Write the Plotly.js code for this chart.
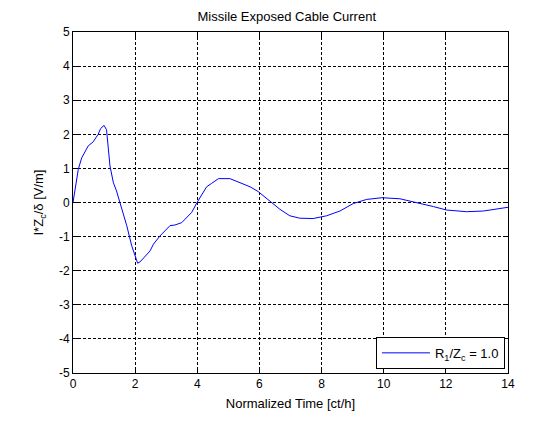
<!DOCTYPE html>
<html>
<head>
<meta charset="utf-8">
<script src="https://cdn.plot.ly/plotly-3.0.1.min.js"></script>
<style>html,body{margin:0;padding:0;background:#fff;}#chart{width:559px;height:422px;}</style>
</head>
<body>
<div id="chart"></div>
<script>
var timeValues = [0, 0.17, 0.28, 0.49, 0.65, 0.81, 0.89, 1.0, 1.08, 1.19, 1.3, 1.4, 1.51, 1.73, 1.89, 2.08, 2.16, 2.48, 2.59, 2.8, 3.12, 3.28, 3.5, 3.82, 3.98, 4.15, 4.3, 4.46, 4.68, 5.05, 5.37, 5.7, 5.96, 6.33, 6.66, 6.98, 7.3, 7.73, 8.16, 8.59, 9.02, 9.45, 9.94, 10.52, 11.06, 11.6, 12.02, 12.67, 13.21, 13.9, 14.0];
var currentValues = [0, 0.97, 1.31, 1.66, 1.78, 2.0, 2.17, 2.26, 2.13, 1.07, 0.58, 0.34, 0, -0.68, -1.27, -1.78, -1.74, -1.42, -1.22, -0.98, -0.68, -0.66, -0.59, -0.29, -0.02, 0.22, 0.46, 0.56, 0.7, 0.7, 0.58, 0.46, 0.32, 0.05, -0.2, -0.39, -0.46, -0.47, -0.39, -0.25, -0.03, 0.09, 0.14, 0.11, 0, -0.12, -0.22, -0.27, -0.25, -0.15, -0.14];
var xTicks = [0, 2, 4, 6, 8, 10, 12, 14];
var yTicks = [-5, -4, -3, -2, -1, 0, 1, 2, 3, 4, 5];
var seriesName = 'R<sub>1</sub>/Z<sub>c</sub> = 1.0';

var font = {family: 'Liberation Sans, Arial, sans-serif', size: 12, color: '#000'};
var bigFont = {family: 'Liberation Sans, Arial, sans-serif', size: 13, color: '#000'};
var axisCommon = {
  showline: true, linecolor: '#000', linewidth: 1, mirror: 'ticks',
  ticks: 'inside', ticklen: 5, tickcolor: '#000', tickwidth: 1,
  showgrid: true, gridcolor: '#000', gridwidth: 1, griddash: '3px,2px',
  zeroline: false, tickfont: font
};
var layout = {
  width: 559, height: 422,
  margin: {l: 73, r: 51, t: 32, b: 49},
  paper_bgcolor: '#fff', plot_bgcolor: '#fff',
  font: font,
  showlegend: true,
  title: {text: 'Missile Exposed Cable Current', font: bigFont, x: 0.513, xanchor: 'center', y: 0.96, yanchor: 'middle'},
  xaxis: Object.assign({}, axisCommon, {range: [0, 14], tickvals: xTicks, ticktext: xTicks.map(String),
    title: {text: 'Normalized Time [ct/h]', font: bigFont, standoff: 8}}),
  yaxis: Object.assign({}, axisCommon, {range: [-5, 5], tickvals: yTicks, ticktext: yTicks.map(String),
    title: {text: 'I*Z<sub>c</sub>/\u03b4 [V/m]', font: bigFont, standoff: 12}}),
  legend: {x: 0.993, y: 0.012, xanchor: 'right', yanchor: 'bottom', bgcolor: '#fff', bordercolor: '#000', borderwidth: 1, font: bigFont, itemwidth: 48}
};
Plotly.newPlot('chart', [{
  x: timeValues, y: currentValues, type: 'scatter', mode: 'lines', name: seriesName,
  line: {color: '#0000ff', width: 1}
}], layout, {displayModeBar: false, staticPlot: true});
</script>
</body>
</html>
